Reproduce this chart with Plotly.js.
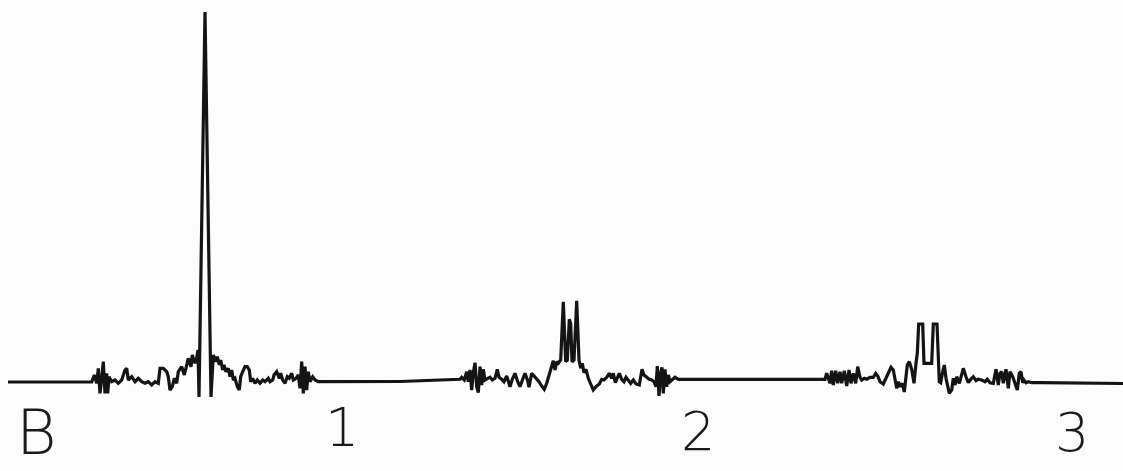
<!DOCTYPE html>
<html>
<head>
<meta charset="utf-8">
<script src="https://cdn.plot.ly/plotly-3.0.1.min.js"></script>
<style>html,body{margin:0;padding:0;background:#fcfcfc;}#chart{width:1123px;height:471px;}</style>
</head>
<body>
<div id="chart"></div>
<script>
// Trace position (horizontal, arbitrary chart units) and signal amplitude
const pos = [8,91.7,94.3,96.7,98.3,100,101.7,103.3,105,106.7,107.7,109,111.7,115,118.3,121.7,125,126.7,128.3,131.7,135,138.3,141.7,145,148.3,151.7,155,158.3,160,163.3,166.7,168.3,170,172.3,174.3,176.7,178.3,181.7,184.3,186.7,188.3,191,192.3,195,196.7,198,
  199,205,211,
  213.3,216,217.3,219.3,220.7,222.7,224,226,228.3,230,231.7,233.3,235,237.3,239.3,240.7,242.7,245,247.3,249.3,250.7,252.7,255,257.3,260,262.7,265,268.3,270,272.7,274,276.7,279.3,280.7,282.7,285,287.3,289.3,291.7,293.3,296,298.3,300,301.7,303.3,305,306.7,308.3,310,312.7,315,318.3,400,458,
  460,461.7,464.3,466.7,468.3,470,471.7,473.3,475,476.7,478.3,480,481.7,483.3,485,487.7,490,492.3,495,497.3,499,501.7,504,506.7,508.3,510,512.3,515,517.7,520,522.7,525,527.7,529,531.7,534.3,536.7,539,541.7,544.3,546.7,548.3,550,551.7,553.3,555,556.7,558.3,560.7,
  563.3,565.7,567.3,569.3,570.7,572,574,576.7,579,
  580.7,582.3,584,586,588.3,590.7,593.3,596,599.3,601.7,604,606.7,609.3,611.7,613.3,615.3,617.3,619.3,621.7,624,626,628.3,630.7,633.3,636,639.3,642,644,646.7,649.3,651.7,654,656,657.3,659,660.7,662,663.3,665,666.7,668.3,670,672.7,675,678.3,825,
  826.7,828.3,830,831.7,833.3,835.7,837.7,840,841.7,844.3,846.7,849,851,853.3,855.7,857.7,860,861.7,864.3,866.7,870,873.3,875.7,877.7,880,883.3,885.7,888.3,891,893.3,895,896.7,898.3,900,902.3,904.3,907.3,909.3,911.7,914,916,917.3,
  918.7,922.7,924,931.7,933.3,937,939.3,
  940.7,942.7,944.3,946,947.3,949.3,951.7,953.3,955,956.7,959.3,961.7,963.3,966,968.3,970.7,973.3,976,978.3,981.7,985,987.3,990,993.3,996,998.3,1000,1001.7,1003.3,1006,1008.3,1010,1012.7,1015,1017.3,1019.3,1021,1022.7,1024,1026,1028.3,1031.7,1040,1123];
const amp = [-1,-1,6,-2.3,12.7,-12.3,2.7,19.3,-12.3,7.7,-12.3,4.3,-0.7,1,-2.3,1,11,12.7,1,4.3,-0.7,2.7,-0.7,-2.3,-0.7,-4,-0.7,-2.3,12.7,12.7,9.3,4.3,-9,-5.7,2.7,-2.3,9.3,14.3,6,17.7,22.7,14.3,26,17.7,22.7,31,
  -16,369,-16,
  26,19.3,24.3,16,21,11,16,9.3,12.7,4.3,11,1,2.7,-5.7,-9,4.3,9.3,14.3,14.3,11,-0.7,2.7,-2.3,1,-2.3,1,-0.7,2.7,-0.7,1,6,9.3,2.7,7.7,1,-2.3,4.3,2.7,7.7,1,2.7,6,-7.3,19.3,-12.3,14.3,-9,9.3,-0.7,4.3,1,-0.7,-0.5,1,
  1.7,3.7,1,9.3,-0.7,11,-9,8.3,18.3,-5.7,-11.7,14.3,-4,11.7,1,2.7,3.7,1,2.7,11.7,3.7,1.7,-0.7,5,-1.7,-5.7,1.7,7.7,-0.7,-5.7,1.7,7.7,0.3,-6.3,7.7,5,2.7,-0.7,-5,-8.3,-2.3,3.7,9,14,20.3,11,19.3,17.7,21,
  79.3,19.3,21,61.7,57.7,19.3,21,80.3,21,
  12.7,17.7,8.3,11.7,2.7,-3,-9,-5.7,-3,1.7,1,3.7,7.7,2.7,7.7,-1.7,3.7,7.7,1.7,-0.7,3.7,0.3,-2.3,1,-3,-4,11.7,6,3.7,1.7,1,-0.7,-5.7,15,-15,7.7,13.7,-12.3,11.7,-5.7,6,-0.7,1.7,3.7,1.7,1.7,
  7.7,2.7,-2.3,10.3,-4,10.3,-2.3,9.3,-2.3,10.3,-5,11,-2.3,7.7,-2.3,14.3,3.7,1,2.7,1.7,3.7,3.7,7.7,5,-0.7,-3,1.7,7.7,13.7,11,-0.7,-7.3,-0.7,-5.7,-2.3,-11,16,19.3,11.7,-2.3,17.7,27.7,
  57,57,17.7,17.7,57,57,-0.7,
  -1.7,9.3,16,2.7,-4,-12.3,-9,2.7,-4,4.3,-2.3,7.7,12.7,4.3,-1.7,1.7,4.3,0.3,1.7,1,-0.7,1.7,-1.7,-2.3,11.7,-4,7.7,9.3,-2.3,11.7,-7.3,9.3,4.3,-2.3,-9,7.7,9.3,-1.7,1,-1.7,-0.7,-1.7,-1.7,-2.5];

// Scale labels along the trace and panel letter
const scaleLabels = ['1', '2', '3'];
const scalePos = [342, 698, 1072];
const scaleLevel = [-46, -50, -51];
const panelLabel = 'B';
const panelPos = 36;

const annotations = scaleLabels.map((t, i) => ({
  x: scalePos[i], y: scaleLevel[i], xref: 'x', yref: 'y', text: t, showarrow: false,
  font: {family: 'DejaVu Sans', size: 54, color: '#1a1a1a', weight: 200},
  xanchor: 'center', yanchor: 'middle'
}));
annotations.push({
  x: panelPos, y: 0, xref: 'x', yref: 'paper', text: panelLabel, showarrow: false,
  font: {family: 'DejaVu Sans', size: 62, color: '#1a1a1a', weight: 200},
  xanchor: 'center', yanchor: 'bottom'
});

Plotly.newPlot('chart', [{
  x: pos, y: amp, type: 'scatter', mode: 'lines',
  line: {color: '#141414', width: 3.2, shape: 'linear'},
  hoverinfo: 'skip'
}], {
  width: 1123, height: 471,
  margin: {l: 0, r: 0, t: 0, b: 0, pad: 0},
  paper_bgcolor: '#fcfcfc', plot_bgcolor: '#fcfcfc',
  showlegend: false,
  xaxis: {range: [0, 1123], visible: false, fixedrange: true},
  yaxis: {range: [-90, 381], visible: false, fixedrange: true},
  annotations: annotations
}, {staticPlot: true, displayModeBar: false});
</script>
</body>
</html>
